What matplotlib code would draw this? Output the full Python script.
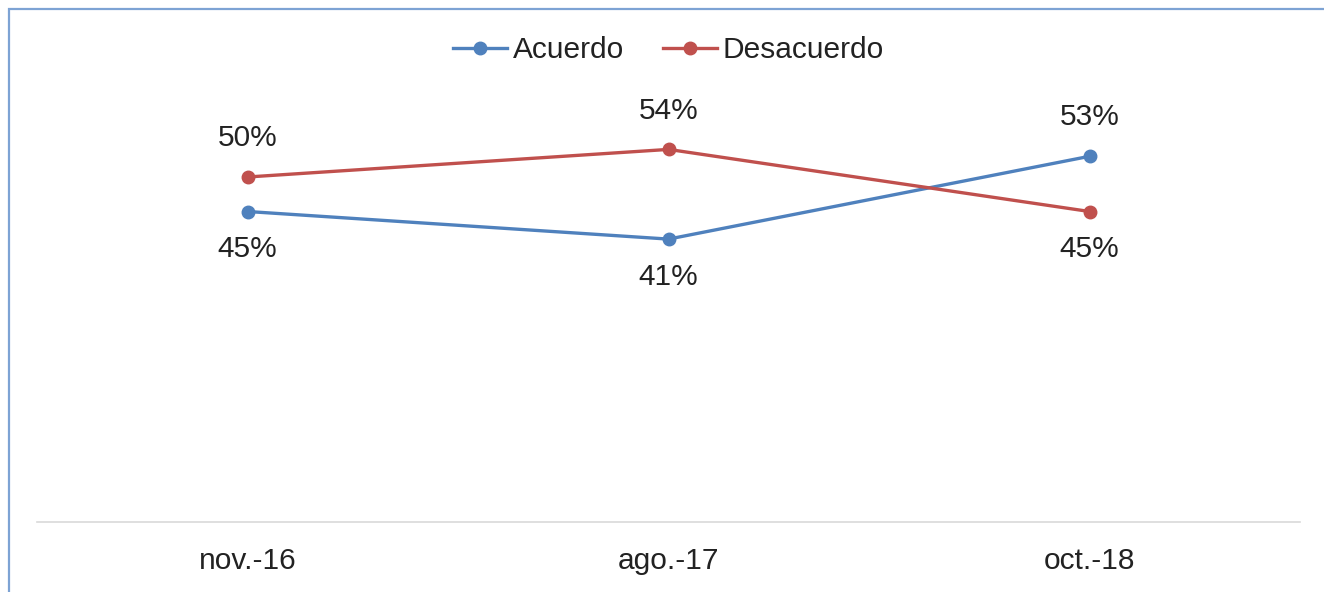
import matplotlib.pyplot as plt
from matplotlib.patches import Rectangle

plt.rcParams['font.family'] = ['Liberation Sans', 'DejaVu Sans']

fechas = ['nov.-16', 'ago.-17', 'oct.-18']
acuerdo = [0.45, 0.41, 0.53]
desacuerdo = [0.50, 0.54, 0.45]

azul = '#4F81BD'
rojo = '#C0504D'

W, H = 1324, 592
fig = plt.figure(figsize=(W / 100, H / 100), dpi=100)

# chart frame, cut off at right and bottom like the screenshot
fig.patches.append(Rectangle((9 / W, -0.1), 1.2, 1 - 9 / H + 0.1, transform=fig.transFigure,
                             fill=False, edgecolor='#7DA3D4', linewidth=1.6))

ax = fig.add_axes([37 / W, 70 / H, (1300 - 37) / W, 483 / H])
x = range(len(fechas))
ax.plot(x, acuerdo, color=azul, lw=2.4, marker='o', ms=9, label='Acuerdo')
ax.plot(x, desacuerdo, color=rojo, lw=2.4, marker='o', ms=9, label='Desacuerdo')

for i in x:
    a, d = acuerdo[i], desacuerdo[i]
    for v, up in ((a, a > d), (d, d >= a)):
        ax.annotate(f'{v:.0%}', (i, v), xytext=(0, 28 if up else -27), textcoords='offset points',
                    ha='center', va='center', fontsize=21.5, color='#222222')

ax.set_xlim(-0.5, 2.5)
ax.set_ylim(0, 0.7)
ax.set_xticks(list(x))
ax.set_xticklabels(fechas, fontsize=21.5, color='#222222')
ax.tick_params(axis='x', length=0, pad=18)
ax.set_yticks([])
for s in ['top', 'right', 'left']:
    ax.spines[s].set_visible(False)
ax.spines['bottom'].set_color('#D9D9D9')
ax.spines['bottom'].set_linewidth(1.2)

ax.legend(loc='center', bbox_to_anchor=(0.5, (592 - 50 - 70) / 483), ncol=2, frameon=False,
          fontsize=21.5, handlelength=1.8, handletextpad=0.2, columnspacing=1.3, labelcolor='#222222')

fig.savefig('out.png', dpi=100)
